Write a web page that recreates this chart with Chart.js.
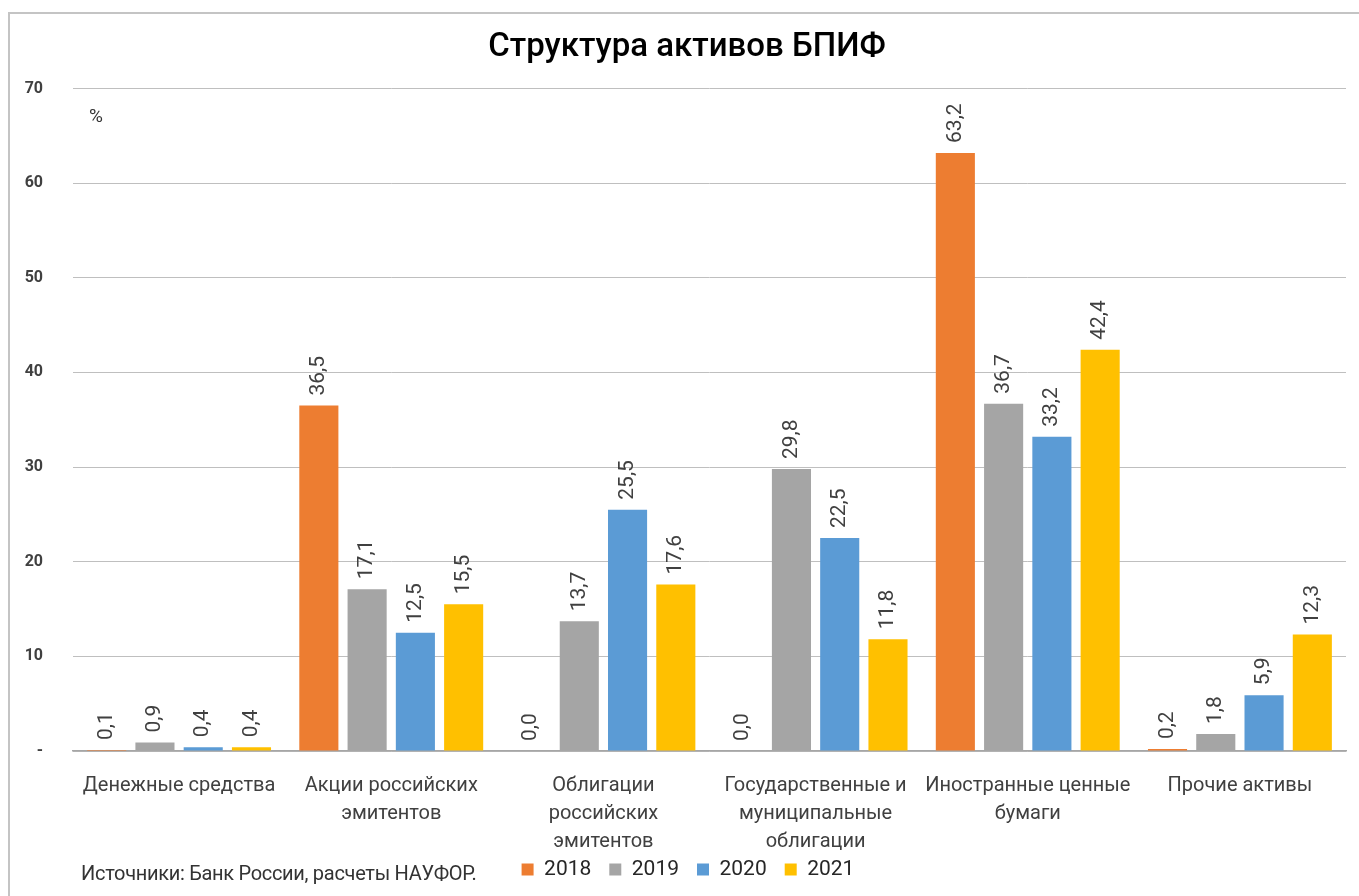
<!DOCTYPE html>
<html lang="ru">
<head>
<meta charset="utf-8">
<title>Структура активов БПИФ</title>
<script src="https://cdn.jsdelivr.net/npm/chart.js@4.4.1/dist/chart.umd.min.js"></script>
<style>
    html, body { margin: 0; padding: 0; background: #fff; overflow: hidden; }
    #wrap { position: relative; width: 1359px; height: 896px; }
    #frame { position: absolute; left: 8px; top: 12px; width: 1400px; height: 1000px; border: 2px solid #c4c4c4; box-sizing: border-box; }
    #chart { position: absolute; left: 0; top: 0; }
    #pct { position: absolute; left: 89px; top: 104px; font: 19px Roboto, sans-serif; color: #333; }
    #src { position: absolute; left: 81px; top: 861px; font: 20px Roboto, sans-serif; color: #333; white-space: nowrap; letter-spacing: -0.3px; }
</style>
</head>
<body>
<div id="wrap">
    <div id="frame"></div>
    <canvas id="chart" width="1359" height="896"></canvas>
    <div id="pct">%</div>
    <div id="src">Источники: Банк России, расчеты НАУФОР.</div>
</div>
<script>
// ── Данные ────
const KATEGORII = [
    ['Денежные средства'],
    ['Акции российских', 'эмитентов'],
    ['Облигации', 'российских', 'эмитентов'],
    ['Государственные и', 'муниципальные', 'облигации'],
    ['Иностранные ценные', 'бумаги'],
    ['Прочие активы']
];
const GODY = ['2018', '2019', '2020', '2021'];
const D2018 = [0.1, 36.5, 0.0, 0.0, 63.2, 0.2];
const D2019 = [0.9, 17.1, 13.7, 29.8, 36.7, 1.8];
const D2020 = [0.4, 12.5, 25.5, 22.5, 33.2, 5.9];
const D2021 = [0.4, 15.5, 17.6, 11.8, 42.4, 12.3];
const Y_MIN = 0, Y_MAX = 70, Y_STEP = 10;

const CORES = ['#ED7D31', '#A5A5A5', '#5B9BD5', '#FFC000'];
const FONTE = "Roboto, 'Liberation Sans', sans-serif";

// ── Подписи значений над столбцами (повёрнутые) ────
const podpisi = {
    id: 'podpisi',
    afterDatasetsDraw(chart) {
        const ctx = chart.ctx;
        ctx.save();
        ctx.font = `21px ${FONTE}`;
        ctx.fillStyle = '#404040';
        ctx.textAlign = 'left';
        ctx.textBaseline = 'middle';
        chart.data.datasets.forEach((ds, i) => {
            chart.getDatasetMeta(i).data.forEach((bar, j) => {
                const txt = ds.data[j].toFixed(1).replace('.', ',');
                ctx.save();
                ctx.translate(bar.x, bar.y - 10);
                ctx.rotate(-Math.PI / 2);
                ctx.fillText(txt, 0, 0);
                ctx.restore();
            });
        });
        ctx.restore();
    }
};

// ── Заголовок и легенда чуть правее, подписям оси X — место для третьей строки ──
const podgonka = {
    id: 'podgonka',
    afterLayout(chart) {
        chart.titleBlock.left += 14;
        chart.titleBlock.right += 14;
        chart.legend.left += 15;
        chart.legend.right += 15;
        chart.scales.x.bottom += 20;
    }
};

new Chart(document.getElementById('chart'), {
    type: 'bar',
    data: {
        labels: KATEGORII,
        datasets: [D2018, D2019, D2020, D2021].map((d, i) => ({
            label: GODY[i],
            data: d,
            backgroundColor: CORES[i],
            borderWidth: 0,
            categoryPercentage: 0.91,
            barPercentage: 0.81
        }))
    },
    options: {
        responsive: false,
        animation: false,
        layout: { padding: { left: 0, right: 13, top: 0, bottom: 6 } },
        plugins: {
            title: {
                display: true,
                text: 'Структура активов БПИФ',
                color: '#000',
                font: { family: FONTE, size: 33, weight: '500', lineHeight: 1.2 },
                padding: { top: 28, bottom: 21 }
            },
            legend: {
                position: 'bottom',
                labels: {
                    color: '#262626',
                    font: { family: FONTE, size: 21 },
                    boxWidth: 12,
                    boxHeight: 12,
                    padding: 18
                }
            },
            tooltip: { enabled: false }
        },
        scales: {
            x: {
                grid: { display: false },
                border: { display: true, color: '#a6a6a6', width: 1.5 },
                ticks: {
                    color: '#404040',
                    font: { family: FONTE, size: 20, lineHeight: 1.4 },
                    padding: 13,
                    autoSkip: false,
                    maxRotation: 0
                },
                afterFit(scale) { scale.height = 90; }
            },
            y: {
                min: Y_MIN,
                max: Y_MAX,
                grid: { color: '#bfbfbf', drawTicks: false },
                border: { display: false },
                ticks: {
                    stepSize: Y_STEP,
                    padding: 30,
                    color: '#404040',
                    font: { family: FONTE, size: 16, weight: 'bold' },
                    callback: v => v === 0 ? '-' : v
                },
                afterFit(scale) { scale.width = 73; }
            }
        }
    },
    plugins: [podpisi, podgonka]
});
</script>
</body>
</html>
